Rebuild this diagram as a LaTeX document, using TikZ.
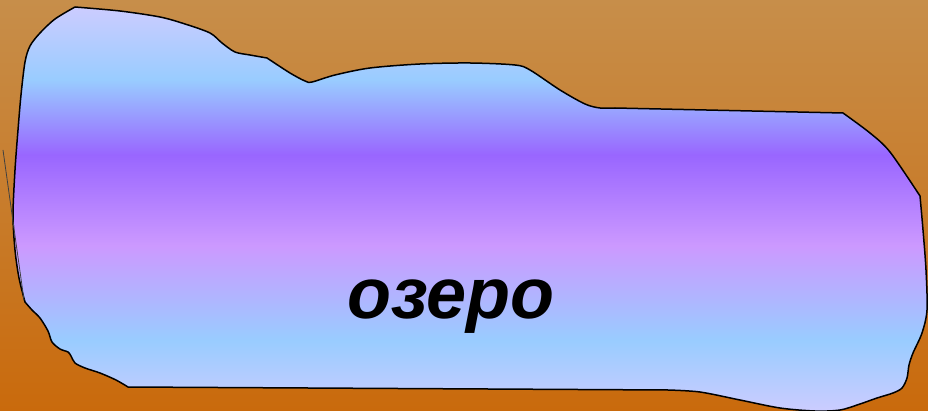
\documentclass[tikz,border=0pt]{standalone}
\usepackage{fontspec}
\setmainfont{Liberation Sans}
\definecolor{bgtop}{RGB}{199,142,74}
\definecolor{bgbot}{RGB}{201,106,12}
\definecolor{lav}{RGB}{204,204,255}
\definecolor{lblue}{RGB}{153,204,255}
\definecolor{lpur}{RGB}{204,153,255}
\definecolor{purp}{RGB}{153,102,255}
\pgfdeclareverticalshading{lake}{100bp}{color(0bp)=(lav); color(25bp)=(lav); color(33.8bp)=(lblue); color(45.5bp)=(lpur); color(56.7bp)=(purp); color(66bp)=(lblue); color(75bp)=(lav); color(100bp)=(lav)}
\tikzset{
  lakeshape/.style={shading=lake, draw=black, line width=1.5pt, line join=round},
  lbl/.style={font=\fontsize{72}{76}\selectfont\bfseries\itshape, anchor=base, inner sep=0pt}
}
\begin{document}
\begin{tikzpicture}[x=1pt,y=-1pt]
\useasboundingbox (0,0) rectangle (928,411);
\shade[top color=bgtop, bottom color=bgbot] (0,0) rectangle (928,411);
\path[lakeshape]
  plot[smooth,tension=0.5] coordinates {(25,302) (19,278) (15,250) (13,215) (15,170) (18,130) (21,95) (25,62) (30,46) (40,33) (55,19) (75,7)}
  -- plot[smooth,tension=0.5] coordinates {(75,7) (120,11) (160,17) (185,24) (210,33) (222,43) (235,52) (250,55) (267,58)}
  -- plot[smooth,tension=0.5] coordinates {(267,58) (290,73) (305,81) (312,82) (335,75) (370,68) (420,64) (470,63) (515,65) (530,70) (560,90) (585,104) (600,108) (615,108)}
  -- plot[smooth,tension=0.5] coordinates {(843,113) (870,133) (890,152) (920,196)}
  -- plot[smooth,tension=0.5] coordinates {(920,196) (923,230) (926,270) (927,310) (922,333) (913,353) (909,365) (907,378) (902,388) (893,393) (877,398) (860,404) (840,410) (815,411) (780,408) (740,400) (700,392) (668,390)}
  -- plot[smooth,tension=0.5] coordinates {(128,387) (116,380) (100,373) (85,368) (75,363) (71,356) (68,352) (60,349) (52,342) (48,331) (40,318) (32,310) (25,302)}
  -- cycle;
\coordinate (s1) at (3,150);
\coordinate (s2) at (24,300);
\draw[black!75, line width=0.8pt] (s1) -- (s2);
\node[lbl] (name) at (451,318) {озеро};
\end{tikzpicture}
\end{document}
